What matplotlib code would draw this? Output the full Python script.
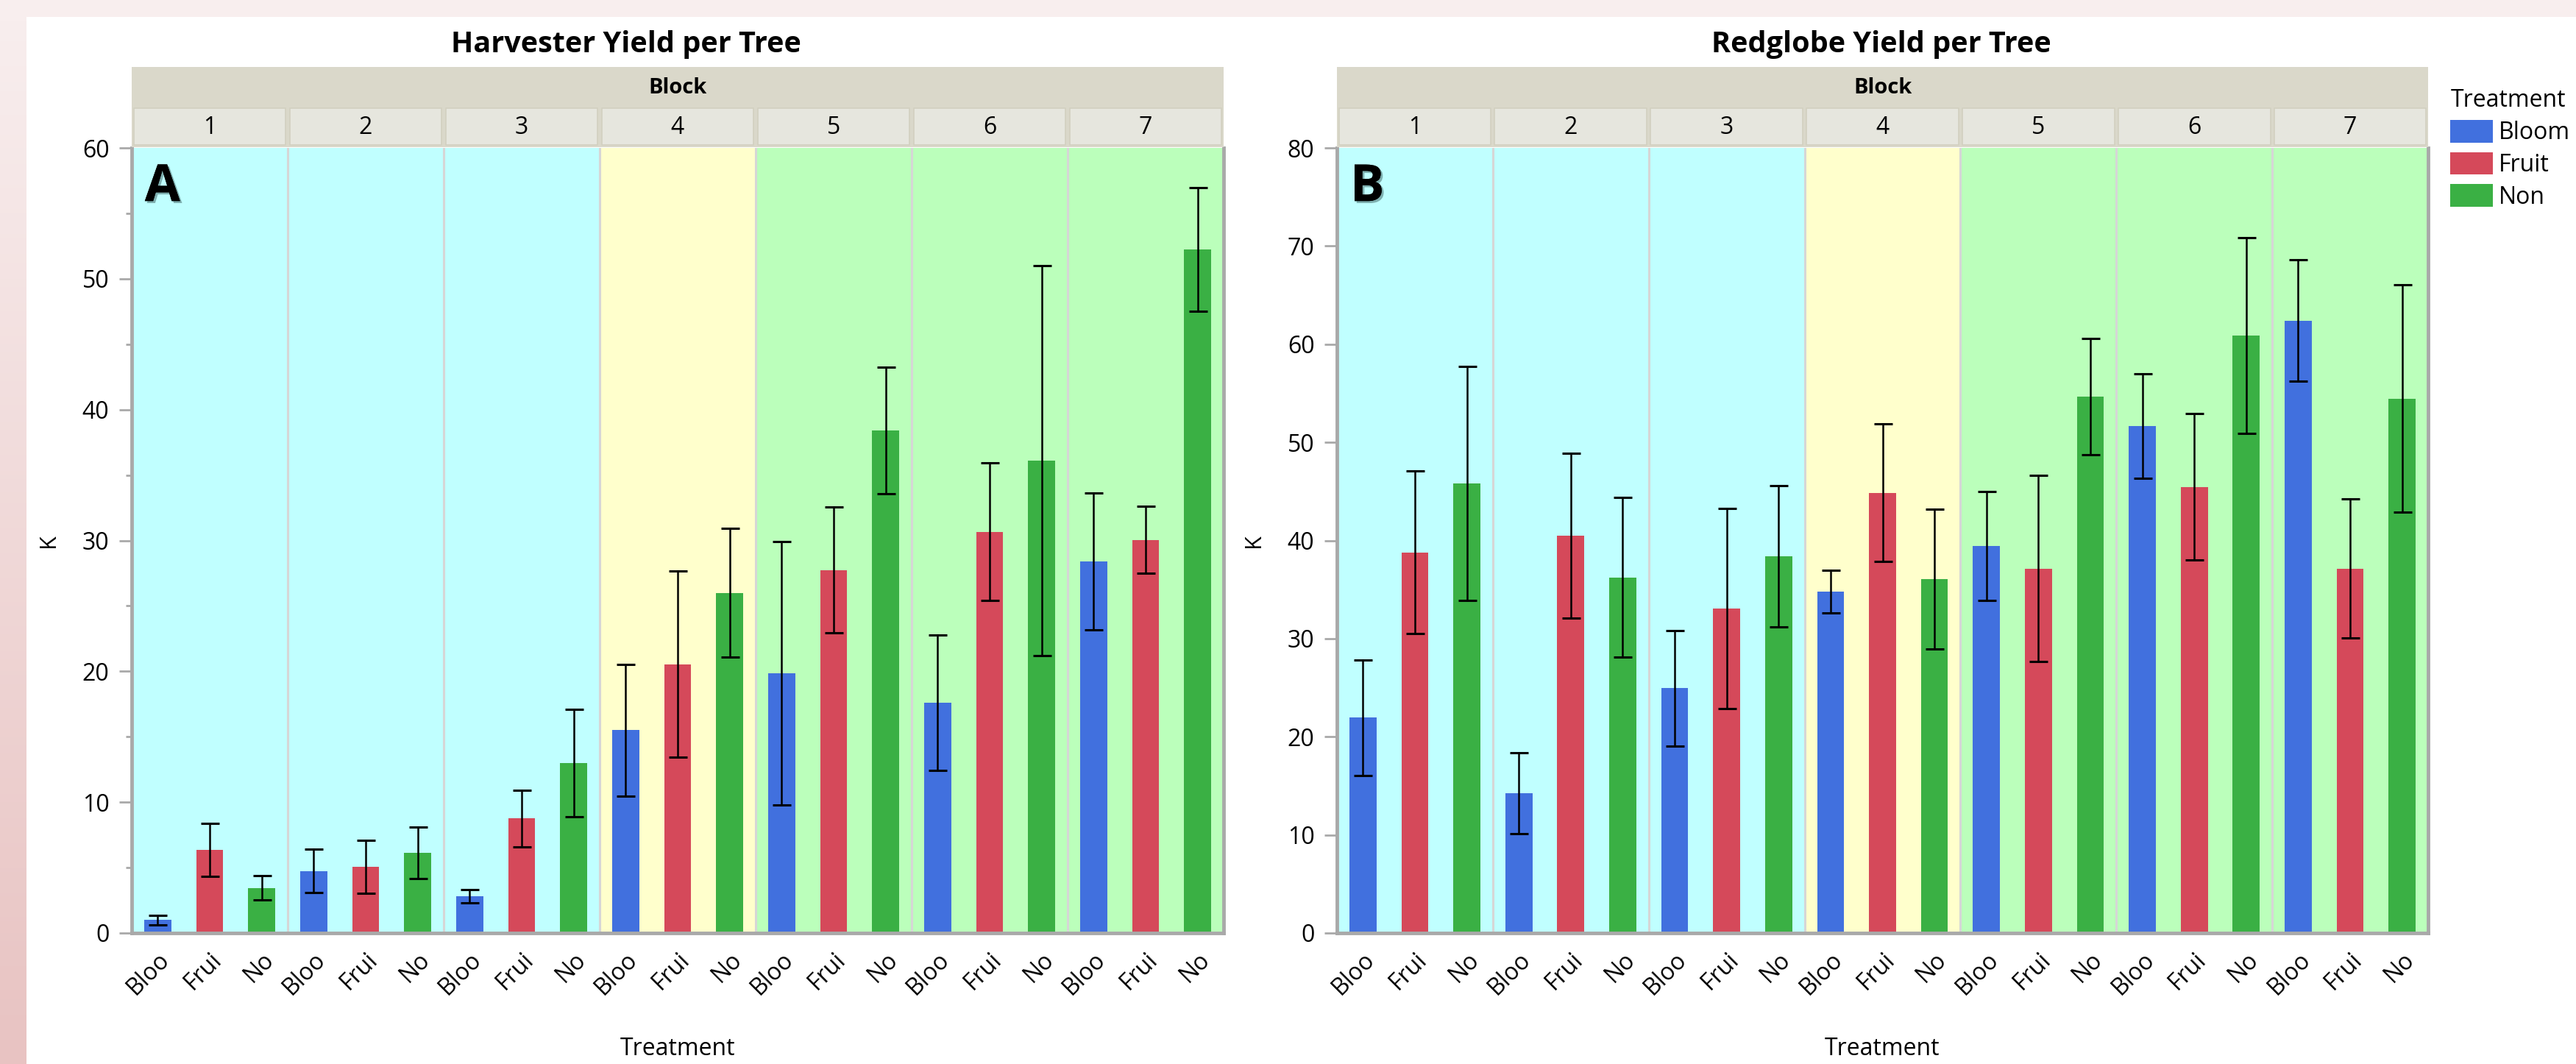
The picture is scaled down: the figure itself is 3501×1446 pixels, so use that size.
import numpy as np
import matplotlib.pyplot as plt
from matplotlib.patches import Rectangle, Patch
import matplotlib.patheffects as pe

plt.rcParams['font.family'] = ['Open Sans', 'DejaVu Sans']

blocks = ['1', '2', '3', '4', '5', '6', '7']
treatments = ['Bloom', 'Fruit', 'Non']
tick_names = ['Bloo', 'Frui', 'No']

# mean yield per tree, one row per block: Bloom, Fruit, Non
harv_mean = [[1.0, 6.35, 3.45],
             [4.75, 5.05, 6.15],
             [2.8, 8.75, 13.0],
             [15.5, 20.55, 26.0],
             [19.85, 27.75, 38.4],
             [17.6, 30.65, 36.1],
             [28.4, 30.05, 52.25]]
harv_err = [[0.37, 2.02, 0.93],
            [1.65, 2.02, 1.97],
            [0.5, 2.16, 4.1],
            [5.02, 7.1, 4.9],
            [10.05, 4.8, 4.82],
            [5.2, 5.26, 14.88],
            [5.22, 2.58, 4.72]]

red_mean = [[21.95, 38.8, 45.8],
            [14.25, 40.5, 36.25],
            [24.95, 33.05, 38.4],
            [34.8, 44.85, 36.05],
            [39.45, 37.15, 54.65],
            [51.65, 45.45, 60.9],
            [62.4, 37.15, 54.45]]
red_err = [[5.87, 8.3, 11.9],
           [4.1, 8.4, 8.13],
           [5.9, 10.2, 7.2],
           [2.16, 7.0, 7.1],
           [5.55, 9.5, 5.95],
           [5.3, 7.45, 9.97],
           [6.2, 7.1, 11.6]]

block_fill = ['#C0FFFF', '#C0FFFF', '#C0FFFF', '#FFFFCC',
              '#BBFFBB', '#BBFFBB', '#BBFFBB']
bar_colors = ['#4170DE', '#D5495A', '#3AB044']
axis_gray = '#A9A9A9'

W, H = 3501, 1446
fig = plt.figure(figsize=(W / 100, H / 100), dpi=100)
fig.patch.set_facecolor('#F8EEEE')

# pink frame: flat top strip, left strip darkening downwards, white page
bg = fig.add_axes([0, 0, 1, 1], zorder=-10)
bg.axis('off')
grad = np.linspace(0, 1, 256)[:, None]
top_c = np.array([248, 238, 238]) / 255
bot_c = np.array([232, 195, 194]) / 255
img = top_c[None, None, :] * (1 - grad[..., None]) + bot_c[None, None, :] * grad[..., None]
bg.imshow(img, extent=(0, 36, H, 23), aspect='auto')
bg.add_patch(Rectangle((36, 23), W - 36, H - 23, facecolor='white', lw=0))
bg.set_xlim(0, W)
bg.set_ylim(H, 0)


def fx(px):
    return px / W


def fy(py):
    return 1 - py / H


ax_bottom = fy(1268)
ax_top = fy(201)


def draw_panel(left_px, right_px, mean, err, ymax, minor, title, title_px, letter, klabel_px):
    mean = np.array(mean)
    err = np.array(err)
    ax = fig.add_axes([fx(left_px), ax_bottom, fx(right_px - left_px), ax_top - ax_bottom])
    for b in range(len(blocks)):
        ax.axvspan(3 * b - 0.5, 3 * b + 2.5, color=block_fill[b], lw=0, zorder=0)
        if b:
            ax.axvline(3 * b - 0.5, color='#D6D6D6', lw=2.2, zorder=1)
    for t in range(3):
        x = np.arange(len(blocks)) * 3 + t
        ax.bar(x, mean[:, t], width=0.52, color=bar_colors[t], zorder=2)
        ax.errorbar(x, mean[:, t], yerr=err[:, t], fmt='none', ecolor='black',
                    elinewidth=1.8, capsize=9, capthick=2.2, zorder=3)
    ax.set_xlim(-0.5, 3 * len(blocks) - 0.5)
    ax.set_ylim(0, ymax)
    ax.set_yticks(np.arange(0, ymax + 1, 10))
    if minor:
        ax.set_yticks(np.arange(5, ymax, 10), minor=True)
    ax.tick_params(axis='y', which='major', length=12, width=2, color=axis_gray,
                   labelsize=23, pad=10)
    ax.tick_params(axis='y', which='minor', length=6, width=2, color=axis_gray)
    ax.set_xticks(np.arange(3 * len(blocks)))
    ax.set_xticklabels(tick_names * len(blocks), rotation=45, ha='right',
                       va='top', rotation_mode='anchor')
    ax.tick_params(axis='x', length=0, labelsize=23, pad=14)
    for s in ['left', 'bottom', 'right']:
        ax.spines[s].set_color(axis_gray)
        ax.spines[s].set_linewidth(3.5)
    ax.spines['top'].set_visible(False)

    ax.text(0.012, 0.982, letter, transform=ax.transAxes, fontsize=50,
            fontweight='bold', va='top', ha='left', zorder=5,
            path_effects=[pe.withSimplePatchShadow(offset=(2, -2),
                                                   shadow_rgbFace='#2F5050', alpha=0.45),
                          pe.Normal()])

    # Block header: caption band and one cell per block
    hb = fig.add_axes([fx(left_px), fy(144), fx(right_px - left_px), fy(91) - fy(144)])
    hb.set_facecolor('#DAD8CA')
    hb.set_xticks([])
    hb.set_yticks([])
    for s in hb.spines.values():
        s.set_visible(False)
    hb.text(0.5, 0.47, 'Block', ha='center', va='center', fontsize=21, fontweight='bold')

    hn = fig.add_axes([fx(left_px), fy(200), fx(right_px - left_px), fy(144) - fy(200)])
    hn.set_facecolor('#DAD8CA')
    hn.set_xlim(0, len(blocks))
    hn.set_ylim(0, 1)
    hn.set_xticks([])
    hn.set_yticks([])
    for s in hn.spines.values():
        s.set_visible(False)
    for b, name in enumerate(blocks):
        hn.add_patch(Rectangle((b + 0.012, 0.06), 0.976, 0.88, facecolor='#E6E6DE',
                               edgecolor='#D2D0C0', lw=1.2))
        hn.text(b + 0.5, 0.47, name, ha='center', va='center', fontsize=23)

    fig.text(fx(title_px), fy(60), title, ha='center', va='center',
             fontsize=28.5, fontweight='bold')
    fig.text(fx(klabel_px), (ax_bottom + ax_top) / 2, 'K', rotation=90,
             ha='center', va='center', fontsize=22)
    fig.text(fx((left_px + right_px) / 2), fy(1425), 'Treatment', ha='center',
             va='center', fontsize=23)
    return ax


draw_panel(179, 1663, harv_mean, harv_err, 60, True,
           'Harvester Yield per Tree', 851, 'A', 66)
draw_panel(1817, 3300, red_mean, red_err, 80, False,
           'Redglobe Yield per Tree', 2557, 'B', 1704)

handles = [Patch(facecolor=c, edgecolor='none') for c in bar_colors]
leg = fig.legend(handles, treatments, title='Treatment', loc='upper left',
                 bbox_to_anchor=(fx(3308), fy(98)), frameon=False, fontsize=23,
                 title_fontsize=23, handlelength=1.8, handleheight=1.1,
                 handletextpad=0.25, labelspacing=0.3, borderpad=0.2)
leg._legend_box.align = 'left'

fig.savefig('out.png', dpi=100, facecolor=fig.get_facecolor())
